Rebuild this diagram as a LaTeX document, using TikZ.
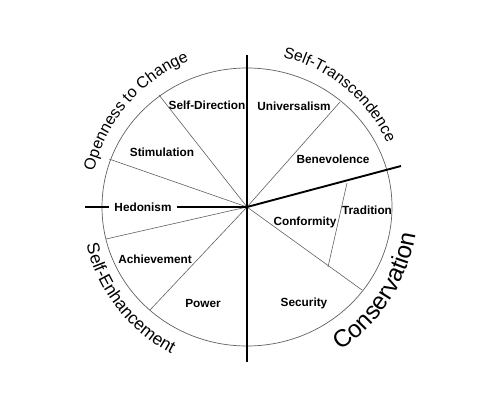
\documentclass[tikz,border=0pt]{standalone}
\usepackage{fontspec}
\setmainfont{Liberation Sans}
\usetikzlibrary{decorations.text,calc}
\begin{document}
\begin{tikzpicture}[x=1pt,y=1pt,
  lbl/.style={font=\fontsize{11.8}{12}\selectfont\bfseries, inner sep=1pt},
  spoke/.style={line width=0.6pt, black!62},
  axisline/.style={line width=1.9pt},
  ring/.style={line width=0.7pt, black!62}]
\useasboundingbox (0,0) rectangle (486,418);
\fill[white] (0,0) rectangle (486,418);
\coordinate (C) at (247,211);
\draw[ring] (C) ellipse [x radius=145, y radius=139];
% spoke ends
\coordinate (sd) at (159,323);
\coordinate (st) at (109,259);
\coordinate (ha) at (106,179);
\coordinate (ap) at (150,108);
\coordinate (ub) at (340,316);
\coordinate (cs) at (362,128);
\coordinate (tt) at (347,235);
\coordinate (tb) at (328,151);
\coordinate (vt) at (247,363);
\coordinate (vb) at (247,56);
\coordinate (hl) at (85,211);
\coordinate (rr) at (401,252);
% labels
\node[lbl] (selfdir) at (207,313) {Self-Direction};
\node[lbl] (univ) at (294,312) {Universalism};
\node[lbl] (stim) at (162,266) {Stimulation};
\node[lbl] (bene) at (333,259) {Benevolence};
\node[lbl, inner xsep=5pt] (hedo) at (143,211) {Hedonism};
\node[lbl] (trad) at (367,208) {Tradition};
\node[lbl] (conf) at (305,196) {Conformity};
\node[lbl] (achi) at (155,159) {Achievement};
\node[lbl] (powr) at (203,115) {Power};
\node[lbl] (secu) at (304,115) {Security};
% spokes
\draw[spoke] (C) -- (sd);
\draw[spoke] (C) -- (st);
\draw[spoke] (C) -- (ha);
\draw[spoke] (C) -- (ap);
\draw[spoke] (C) -- (ub);
\draw[spoke] (C) -- (cs);
\draw[spoke] (tt) -- (tb);
% axes
\draw[axisline] (vt) -- (vb);
\draw[axisline] (hl) -- (hedo.west);
\draw[axisline] (hedo.east) -- (C);
\draw[axisline] (C) -- (rr);
% arc texts
\path[decorate, decoration={text along path, text align=center,
  text={|\fontsize{16}{17}\selectfont|Openness to Change}}]
  ($(C)+(179.25:157)$) arc[start angle=179.25, end angle=99.25, radius=157];
\path[decorate, decoration={text along path, text align=center,
  text={|\fontsize{15.6}{17}\selectfont|Self-Transcendence}}]
  ($(C)+(90.6:154)$) arc[start angle=90.6, end angle=10.6, radius=154];
\path[decorate, decoration={text along path, text align=center,
  text={|\fontsize{17.3}{18}\selectfont|Self-Enhancement}}]
  ($(C)+(178:165)$) arc[start angle=178, end angle=258, radius=165];
\path[decorate, decoration={text along path, text align=center,
  text={|\fontsize{24.3}{25}\selectfont|Conservation}}]
  ($(C)+(-73:171)$) arc[start angle=-73, end angle=7, radius=171];
\end{tikzpicture}
\end{document}
